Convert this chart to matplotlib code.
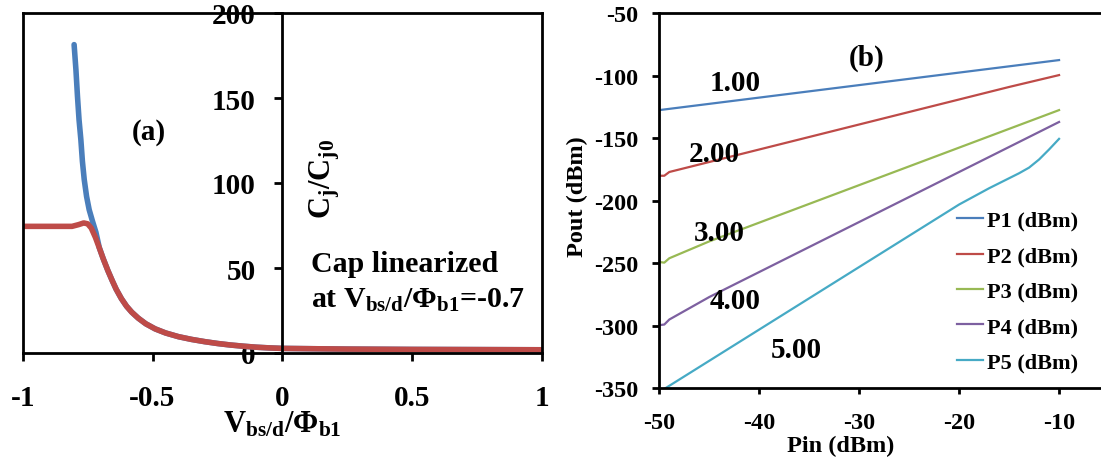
import matplotlib
matplotlib.use('Agg')
import matplotlib.pyplot as plt

plt.rcParams['font.family'] = ['Liberation Serif', 'DejaVu Serif']
plt.rcParams['font.weight'] = 'bold'
plt.rcParams['mathtext.fontset'] = 'custom'
plt.rcParams['mathtext.rm'] = 'Liberation Serif:bold'
plt.rcParams['mathtext.it'] = 'Liberation Serif:bold'
plt.rcParams['mathtext.bf'] = 'Liberation Serif:bold'
plt.rcParams['axes.unicode_minus'] = False

# ---------------- Panel (a) data ----------------
v_ideal = [-0.802, -0.795, -0.789, -0.783, -0.776, -0.770, -0.763, -0.754, -0.744,
           -0.731, -0.718, -0.705, -0.69, -0.672, -0.655, -0.64, -0.62, -0.6,
           -0.58, -0.555, -0.526, -0.49, -0.45, -0.4, -0.35, -0.3, -0.25, -0.2,
           -0.15, -0.1, -0.05, 0.0, 0.25, 0.5, 0.75, 1.0]
c_ideal = [181.4, 166.6, 150.9, 137.2, 125.5, 112.7, 102.0, 92.1, 84.3,
           77.4, 71.0, 62.0, 55.5, 48.5, 42.5, 37.5, 32.0, 27.5,
           24.0, 20.5, 17.2, 14.2, 11.8, 9.6, 8.0, 6.7, 5.6, 4.7,
           4.0, 3.4, 3.0, 2.7, 2.3, 2.1, 2.0, 1.9]
v_lin = [-1.0, -0.9, -0.81, -0.785, -0.765, -0.75, -0.736, -0.72, -0.703, -0.69,
         -0.672, -0.655, -0.64, -0.62, -0.6, -0.58, -0.555, -0.526, -0.49, -0.45,
         -0.4, -0.35, -0.3, -0.25, -0.2, -0.15, -0.1, -0.05, 0.0, 0.25, 0.5, 0.75, 1.0]
c_lin = [74.5, 74.5, 74.5, 75.5, 76.5, 76.0, 73.5, 68.0, 61.0, 55.5,
         48.5, 42.5, 37.5, 32.0, 27.5, 24.0, 20.5, 17.2, 14.2, 11.8,
         9.6, 8.0, 6.7, 5.6, 4.7, 4.0, 3.4, 3.0, 2.7, 2.3, 2.1, 2.0, 1.9]
a_xticks = [-1, -0.5, 0, 0.5, 1]
a_xticklabels = ['-1', '-0.5', '0', '0.5', '1']
a_yticks = [0, 50, 100, 150, 200]
a_yticklabels = ['0', '50', '100', '150', '200']

# ---------------- Panel (b) data ----------------
pin = [-50, -49.5, -49, -45, -40, -35, -30, -25, -20, -15, -10]
p1 = [-127.5, -127.0, -126.5, -122.5, -117.5, -112.5, -107.5, -102.5, -97.5, -92.5, -87.5]
p2 = [-180.0, -180.0, -177.0, -169.0, -159.0, -149.0, -139.0, -129.0, -119.0, -109.0, -99.5]
p3 = [-249.0, -249.5, -246.0, -232.5, -217.5, -202.5, -187.5, -172.5, -157.5, -142.5, -127.5]
p4 = [-299.5, -299.0, -295.0, -277.0, -257.0, -237.0, -217.0, -197.0, -177.0, -157.0, -137.0]
pin5 = [-49.4, -45, -40, -35, -30, -25, -20, -17, -15, -14, -13, -12, -11, -10]
p5 = [-350.0, -328.0, -303.0, -278.0, -253.0, -228.0, -203.0, -190.0, -182.0,
      -178.0, -173.5, -167.0, -159.0, -150.5]
series_names = ['P1 (dBm)', 'P2 (dBm)', 'P3 (dBm)', 'P4 (dBm)', 'P5 (dBm)']
series_colors = ['#4A7EBB', '#BE4B48', '#98B954', '#7D60A0', '#46AAC5']
order_labels = ['1.00', '2.00', '3.00', '4.00', '5.00']
order_label_pin = [-42.4, -44.5, -44.0, -42.4, -36.3]
order_label_pout = [-105.3, -162.6, -225.0, -280.0, -318.6]
b_xticks = [-50, -40, -30, -20, -10]
b_yticks = [-350, -300, -250, -200, -150, -100, -50]

W, H = 1101, 460
fig = plt.figure(figsize=(W / 100, H / 100), dpi=100)


def fx(x):
    return x / W


def fy(y):
    return 1 - y / H


# ---------------- Axes (a) ----------------
ax1 = fig.add_axes([fx(22.7), fy(354), (542 - 22.7) / W, 340 / H])
ax1.plot(v_ideal, c_ideal, color='#4A7EBB', lw=4.0, solid_capstyle='round')
ax1.plot(v_lin, c_lin, color='#BE4B48', lw=4.0, solid_capstyle='round')
ax1.set_xlim(-1, 1)
ax1.set_ylim(0, 200)
ax1.spines['left'].set_position(('data', 0))
for s in ax1.spines.values():
    s.set_linewidth(2)
ax1.plot([0, 0], [0, 1], transform=ax1.transAxes, color='black', lw=2,
         clip_on=False, solid_capstyle='projecting')
ax1.set_xticks(a_xticks)
ax1.set_xticklabels(a_xticklabels)
ax1.set_yticks(a_yticks)
ax1.set_yticklabels(a_yticklabels)
ax1.tick_params(axis='both', direction='out', length=6, width=2, labelsize=21)
ax1.tick_params(axis='x', pad=16)
ax1.tick_params(axis='y', pad=13)

ax1.text(-0.513, 130.4, '(a)', fontsize=21, ha='center', va='center')
ax1.text(0.165, 103, r'C$_{\mathrm{j}}$/C$_{\mathrm{j0}}$', fontsize=22,
         rotation=90, ha='center', va='center')
ax1.text(0.112, 48, 'Cap linearized', fontsize=21.5, ha='left', va='baseline')
ax1.text(0.112, 27.4, r'at V$_{\mathrm{bs/d}}$/Φ$_{\mathrm{b1}}$=-0.7', fontsize=21.5,
         ha='left', va='baseline')
ax1.text(0, -0.232, r'V$_{\mathrm{bs/d}}$/Φ$_{\mathrm{b1}}$', fontsize=22,
         transform=ax1.get_xaxis_transform(), ha='center', va='baseline')

# ---------------- Axes (b) ----------------
ax2 = fig.add_axes([fx(659.3), fy(389.3), 499.7 / W, 375.1 / H])
handles = []
for xs, ys, name, col in zip([pin, pin, pin, pin, pin5], [p1, p2, p3, p4, p5],
                             series_names, series_colors):
    h, = ax2.plot(xs, ys, color=col, lw=1.6, label=name)
    handles.append(h)
ax2.set_xlim(-50, 0)
ax2.set_ylim(-350, -50)
for s in ax2.spines.values():
    s.set_linewidth(2)
ax2.set_xticks(b_xticks)
ax2.set_yticks(b_yticks)
ax2.tick_params(axis='both', direction='out', width=2, labelsize=17.5)
ax2.tick_params(axis='x', length=4, pad=13)
ax2.tick_params(axis='y', length=5, pad=10)

for lab, xx, yy in zip(order_labels, order_label_pin, order_label_pout):
    ax2.text(xx, yy, lab, fontsize=21, ha='center', va='center')
ax2.text(-29.3, -85.5, '(b)', fontsize=21, ha='center', va='center')

fig.legend(handles=handles, labels=series_names, loc='center left',
           bbox_to_anchor=(fx(956.8), fy(292.5)), frameon=False,
           fontsize=16, handlelength=1.2, handletextpad=0.15,
           labelspacing=0.67, borderpad=0, borderaxespad=0)

fig.text(fx(787), fy(451.7), 'Pin (dBm)', fontsize=17.5, ha='left', va='baseline')
fig.text(fx(577.5), fy(196.7), 'Pout (dBm)', fontsize=17.5, rotation=90,
         ha='center', va='center')

fig.savefig('out.png', dpi=100)
